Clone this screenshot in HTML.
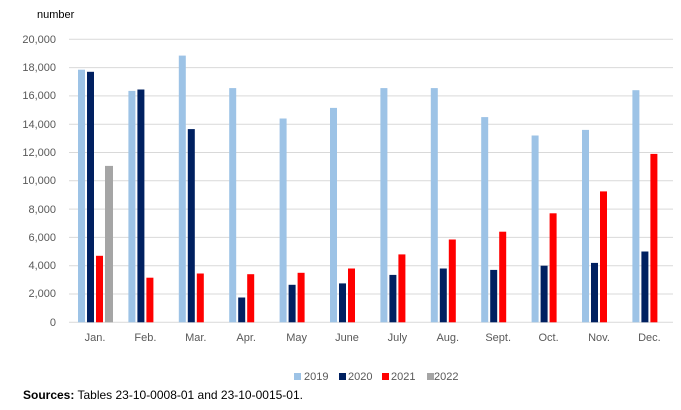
<!DOCTYPE html>
<html><head><style>body{margin:0;background:#fff}svg{display:block}text{font-family:"Liberation Sans",sans-serif;font-size:11px;fill:#595959}</style></head><body>
<svg width="681" height="410" xmlns="http://www.w3.org/2000/svg">
<text x="37" y="18" style="fill:#000">number</text>
<g stroke="#d9d9d9" stroke-width="1">
<line x1="69" x2="673" y1="39.3" y2="39.3"/><line x1="69" x2="673" y1="67.6" y2="67.6"/><line x1="69" x2="673" y1="95.9" y2="95.9"/><line x1="69" x2="673" y1="124.2" y2="124.2"/><line x1="69" x2="673" y1="152.5" y2="152.5"/><line x1="69" x2="673" y1="180.8" y2="180.8"/><line x1="69" x2="673" y1="209.1" y2="209.1"/><line x1="69" x2="673" y1="237.4" y2="237.4"/><line x1="69" x2="673" y1="265.7" y2="265.7"/><line x1="69" x2="673" y1="294" y2="294"/><line x1="69" x2="673" y1="322.3" y2="322.3"/>
</g>
<g text-anchor="end">
<text x="56" y="43">20,000</text><text x="56" y="71">18,000</text><text x="56" y="99">16,000</text><text x="56" y="128">14,000</text><text x="56" y="156">12,000</text><text x="56" y="184">10,000</text><text x="56" y="213">8,000</text><text x="56" y="241">6,000</text><text x="56" y="269">4,000</text><text x="56" y="297">2,000</text><text x="56" y="326">0</text>
</g>
<g fill="#9dc3e6">
<rect x="78" y="69.7" width="7" height="252.6"/><rect x="128.4" y="90.9" width="7" height="231.4"/><rect x="178.8" y="55.6" width="7" height="266.7"/><rect x="229.2" y="88.1" width="7" height="234.2"/><rect x="279.6" y="118.5" width="7" height="203.8"/><rect x="330" y="107.9" width="7" height="214.4"/><rect x="380.4" y="88.1" width="7" height="234.2"/><rect x="430.8" y="88.1" width="7" height="234.2"/><rect x="481.2" y="117.1" width="7" height="205.2"/><rect x="531.6" y="135.5" width="7" height="186.8"/><rect x="582" y="129.9" width="7" height="192.4"/><rect x="632.4" y="90.2" width="7" height="232.1"/>
</g>
<g fill="#002060">
<rect x="87" y="71.8" width="7" height="250.5"/><rect x="137.4" y="89.5" width="7" height="232.8"/><rect x="187.8" y="129.1" width="7" height="193.2"/><rect x="238.2" y="297.5" width="7" height="24.8"/><rect x="288.6" y="284.8" width="7" height="37.5"/><rect x="339" y="283.4" width="7" height="38.9"/><rect x="389.4" y="274.9" width="7" height="47.4"/><rect x="439.8" y="268.5" width="7" height="53.8"/><rect x="490.2" y="269.9" width="7" height="52.4"/><rect x="540.6" y="265.7" width="7" height="56.6"/><rect x="591" y="262.9" width="7" height="59.4"/><rect x="641.4" y="251.5" width="7" height="70.8"/>
</g>
<g fill="#ff0000">
<rect x="96" y="255.8" width="7" height="66.5"/><rect x="146.4" y="277.7" width="7" height="44.6"/><rect x="196.8" y="273.5" width="7" height="48.8"/><rect x="247.2" y="274.2" width="7" height="48.1"/><rect x="297.6" y="272.8" width="7" height="49.5"/><rect x="348" y="268.5" width="7" height="53.8"/><rect x="398.4" y="254.4" width="7" height="67.9"/><rect x="448.8" y="239.5" width="7" height="82.8"/><rect x="499.2" y="231.7" width="7" height="90.6"/><rect x="549.6" y="213.3" width="7" height="109"/><rect x="600" y="191.4" width="7" height="130.9"/><rect x="650.4" y="153.9" width="7" height="168.4"/>
</g>
<rect x="105" y="165.9" width="8" height="156.4" fill="#a5a5a5"/>
<g text-anchor="middle">
<text x="95" y="341">Jan.</text><text x="145.4" y="341">Feb.</text><text x="195.8" y="341">Mar.</text><text x="246.2" y="341">Apr.</text><text x="296.6" y="341">May</text><text x="347" y="341">June</text><text x="397.4" y="341">July</text><text x="447.8" y="341">Aug.</text><text x="498.2" y="341">Sept.</text><text x="548.6" y="341">Oct.</text><text x="599" y="341">Nov.</text><text x="649.4" y="341">Dec.</text>
</g>
<rect x="294" y="373" width="7" height="7" fill="#9dc3e6"/><text x="304" y="380">2019</text>
<rect x="339" y="373" width="7" height="7" fill="#002060"/><text x="348" y="380">2020</text>
<rect x="382" y="373" width="7" height="7" fill="#ff0000"/><text x="391" y="380">2021</text>
<rect x="427" y="373" width="7" height="7" fill="#a5a5a5"/><text x="434" y="380">2022</text>
<text x="23" y="399" style="fill:#000;font-size:12px"><tspan font-weight="bold">Sources:</tspan> Tables 23-10-0008-01 and 23-10-0015-01.</text>
</svg>
</body></html>
